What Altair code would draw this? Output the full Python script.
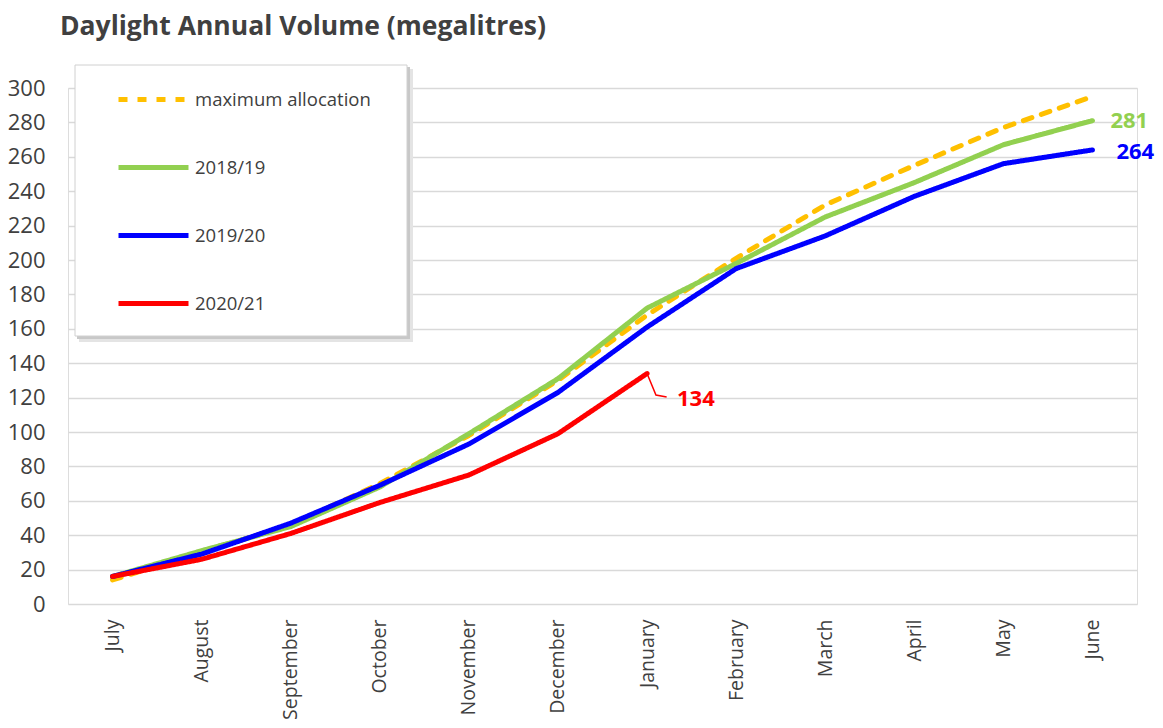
import altair as alt
import pandas as pd

TITLE = "Daylight Annual Volume (megalitres)"
MONTHS = ["July", "August", "September", "October", "November", "December",
          "January", "February", "March", "April", "May", "June"]
SERIES = ["maximum allocation", "2018/19", "2019/20", "2020/21"]
COLORS = ["#FFC000", "#92D050", "#0000FF", "#FF0000"]

MAX_ALLOC = [14, 30, 46, 70, 98, 130, 168, 201, 232, 255, 277, 295]
V1819 = [16, 31, 45, 68, 99, 131, 172, 198, 225, 245, 267, 281]
V1920 = [16, 29, 47, 69, 93, 123, 161, 195, 214, 237, 256, 264]
V2021 = [16, 26, 41, 59, 75, 99, 134]
Y_TICKS = list(range(0, 301, 20))

FONT = "Open Sans"
TXT = "#404040"

rows = []
for name, vals in zip(SERIES, [MAX_ALLOC, V1819, V1920, V2021]):
    for i, v in enumerate(vals):
        rows.append({"series": name, "m": i, "vol": v})
df = pd.DataFrame(rows)

label_expr = "[" + ",".join(f"'{m}'" for m in MONTHS) + "][datum.value]"

X_SCALE = alt.Scale(domain=[-0.5, 11.5], nice=False, zero=False)
Y_SCALE = alt.Scale(domain=[0, 300], nice=False, zero=True)
X_AXIS = alt.Axis(values=list(range(12)), labelExpr=label_expr, labelAngle=-90,
                  grid=False, domain=False, ticks=False, labelPadding=15,
                  labelFontSize=19.5, labelColor=TXT, labelFont=FONT,
                  labelOverlap=False, labelFlush=False, title=None)
Y_AXIS = alt.Axis(values=Y_TICKS, grid=True, gridColor="#d9d9d9", gridWidth=1.5,
                  domain=False, ticks=False, labelPadding=23, labelFontSize=22,
                  labelColor=TXT, labelFont=FONT, labelOverlap=False,
                  labelFlush=False, title=None)

def xe(field="m:Q"):
    return alt.X(field, scale=X_SCALE, axis=X_AXIS)

def ye(field="vol:Q"):
    return alt.Y(field, scale=Y_SCALE, axis=Y_AXIS)

LEG = dict(title=None, orient="none", legendX=48, legendY=-26, direction="vertical",
           symbolType="stroke", symbolSize=4900, symbolStrokeWidth=5,
           labelFontSize=18.5, labelFont=FONT, labelColor=TXT, labelOffset=4,
           labelLimit=400, rowPadding=20, padding=0, symbolOffset=0)

# legend frame (decoration)
frame_df = pd.DataFrame({"k": [0]})
shadow2 = alt.Chart(frame_df).mark_rect(color="#e4e4e4").encode(
    x=alt.value(11), x2=alt.value(345), y=alt.value(-19), y2=alt.value(254))
shadow1 = alt.Chart(frame_df).mark_rect(color="#c8c8c8").encode(
    x=alt.value(9), x2=alt.value(342), y=alt.value(-21), y2=alt.value(251))
box = alt.Chart(frame_df).mark_rect(color="white", stroke="#d0d0d0", strokeWidth=1).encode(
    x=alt.value(7), x2=alt.value(339), y=alt.value(-23), y2=alt.value(248))

lines = alt.Chart(df).mark_line(strokeWidth=5, strokeCap="round", strokeJoin="round").encode(
    x=xe(), y=ye(),
    color=alt.Color("series:N", scale=alt.Scale(domain=SERIES, range=COLORS),
                    legend=alt.Legend(**LEG)),
    strokeDash=alt.StrokeDash("series:N",
                              scale=alt.Scale(domain=SERIES,
                                              range=[[9, 10], [1, 0], [1, 0], [1, 0]]),
                              legend=alt.Legend(**LEG)),
    order=alt.Order("m:Q"),
)

def end_label(vals, color, dx, dy):
    d = pd.DataFrame({"m": [len(vals) - 1], "vol": [vals[-1]], "t": [str(vals[-1])]})
    return alt.Chart(d).mark_text(align="left", baseline="middle", dx=dx, dy=dy,
                                  font=FONT, fontSize=22, fontWeight="bold", color=color).encode(
        x=xe(), y=ye(), text="t:N")

lab_1819 = end_label(V1819, "#92D050", 18, 0)
lab_1920 = end_label(V1920, "#0000FF", 24, 2)
lab_2021 = end_label(V2021, "#FF0000", 30, 25)

# leader line for 2020/21 label
j = len(V2021) - 1
lead_df = pd.DataFrame({"m": [j, j + 0.1, j + 0.22],
                        "vol": [V2021[-1], V2021[-1] - 12.5, V2021[-1] - 13.7],
                        "o": [0, 1, 2]})
leader = alt.Chart(lead_df).mark_line(color="#FF0000", strokeWidth=1.5).encode(
    x=xe(), y=ye(), order="o:Q")

title = alt.Chart(pd.DataFrame({"t": [TITLE]})).mark_text(
    align="left", baseline="middle", font=FONT, fontSize=26.5, fontWeight="bold", color=TXT
).encode(text="t:N", x=alt.value(-8), y=alt.value(-61))

chart = alt.layer(shadow2, shadow1, box, lines, leader, lab_1819, lab_1920, lab_2021, title).properties(
    width=1069, height=516,
    autosize=alt.AutoSizeParams(type="none"),
    padding={"left": 60, "top": 80, "right": 18, "bottom": 124},
).configure_view(stroke=None).configure(background="white")

chart.save("out.html", embed_options={"renderer": "svg", "actions": False})
